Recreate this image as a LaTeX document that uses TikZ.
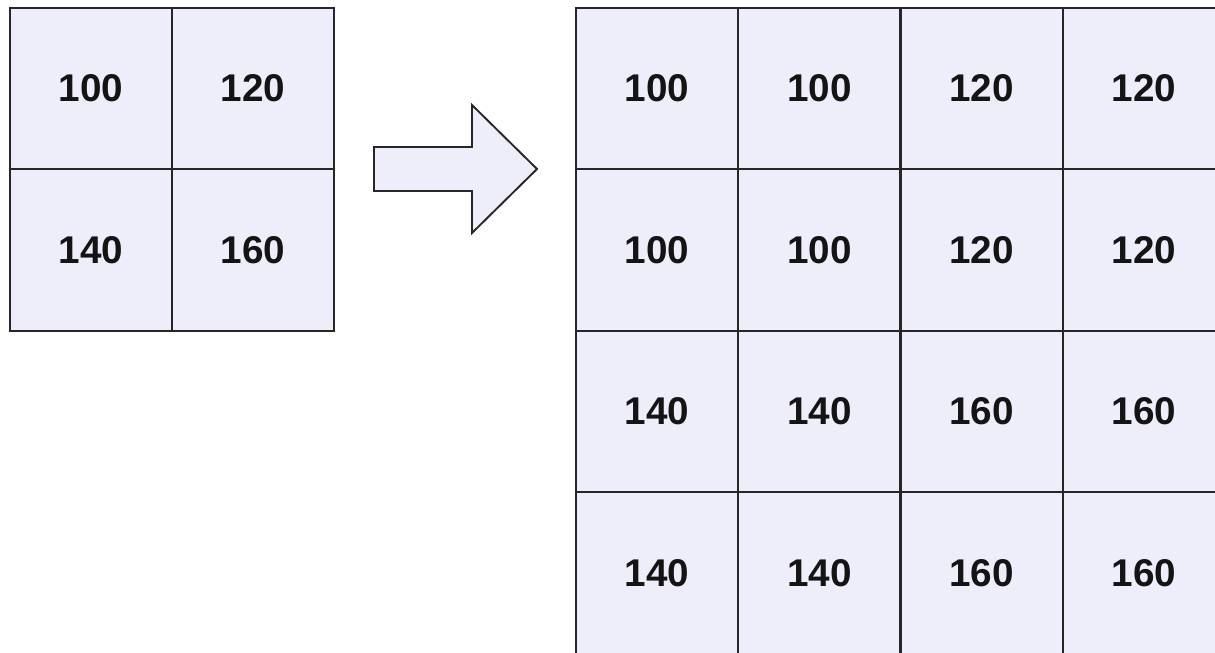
\documentclass[tikz,border=0pt]{standalone}
\usepackage{fontspec}
\setmainfont{Liberation Sans}
\begin{document}
\begin{tikzpicture}[x=0.75pt,y=-0.75pt,
  cellfill/.style={fill=cellbg},
  pixel/.style={draw=edgecol,line width=1.4pt,cellfill,minimum width=162*0.75pt,
    minimum height=161.5*0.75pt,inner sep=0pt,font=\fontsize{29}{29}\selectfont\bfseries,
    text=black!92}]
\definecolor{cellbg}{HTML}{EEEEFB}
\definecolor{edgecol}{HTML}{262626}
\clip (0,0) rectangle (1215,653);
\fill[white] (0,0) rectangle (1215,653);
% source image, 2x2
\foreach \r/\c/\v in {0/0/100,0/1/120,1/0/140,1/1/160}
  \node[pixel] (s\r\c) at ({91+162*\c},{88.5+161.5*\r}) {\v};
% enlarged image, 4x4 (nearest neighbour)
\foreach \r/\c/\v in {0/0/100,0/1/100,0/2/120,0/3/120,
                      1/0/100,1/1/100,1/2/120,1/3/120,
                      2/0/140,2/1/140,2/2/160,2/3/160,
                      3/0/140,3/1/140,3/2/160,3/3/160}
  \node[pixel] (t\r\c) at ({657+162.3*\c},{88.5+161.5*\r}) {\v};
% block arrow
\draw[draw=edgecol,line width=1.4pt,cellfill,line join=miter]
  (374,147) -- (472,147) -- (472,105) -- (537,169) -- (472,233)
  -- (472,191) -- (374,191) -- cycle;
\end{tikzpicture}
\end{document}
